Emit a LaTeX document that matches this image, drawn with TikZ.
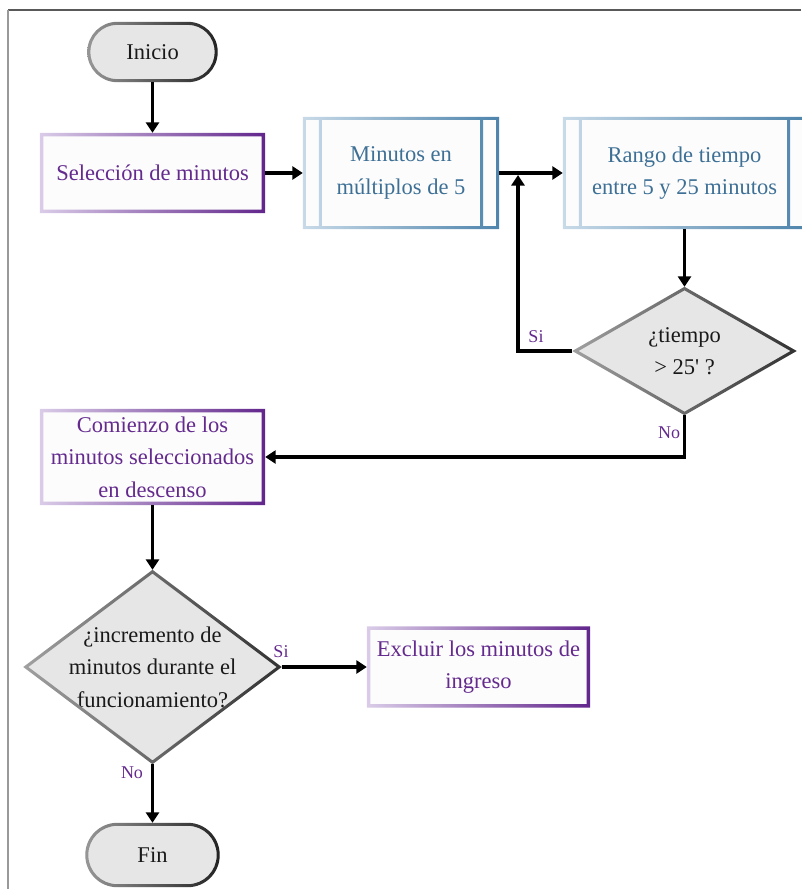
\documentclass[tikz,border=0pt]{standalone}
\usepackage{fontspec}
\setmainfont{Liberation Serif}
\usetikzlibrary{shapes.geometric,arrows.meta,calc}

\definecolor{purptext}{RGB}{100,42,142}
\definecolor{purplight}{RGB}{218,204,232}
\definecolor{purpdark}{RGB}{98,38,140}
\definecolor{bluetext}{RGB}{62,112,150}
\definecolor{bluelight}{RGB}{200,218,232}
\definecolor{bluedark}{RGB}{78,132,172}
\definecolor{boxfill}{RGB}{252,252,252}
\definecolor{greyfill}{RGB}{230,230,230}
\definecolor{termlight}{RGB}{150,150,150}
\definecolor{termdark}{RGB}{35,35,35}
\definecolor{dialight}{RGB}{160,160,160}
\definecolor{diadark}{RGB}{50,50,50}

% gradient ring around a rectangular node
\newcommand\rectring[3]{%
  \shade[left color=#2, right color=#3, even odd rule]
    (#1.south west) rectangle (#1.north east)
    ([shift={(3.5,3.5)}]#1.south west) rectangle ([shift={(-3.5,-3.5)}]#1.north east);}
% predefined-process frame with its two inner bars
\newcommand\procring[1]{%
  \shade[left color=bluelight, right color=bluedark, even odd rule]
    (#1.south west) rectangle (#1.north east)
    ([shift={(3,3)}]#1.south west) rectangle ([shift={(-3,-3)}]#1.north east)
    ([shift={(16,3)}]#1.south west) rectangle ([shift={(19,-3)}]#1.north west)
    ([shift={(-19,3)}]#1.south east) rectangle ([shift={(-16,-3)}]#1.north east);}
% rounded terminal frame
\newcommand\termring[3]{%
  \shade[left color=termlight, right color=termdark, even odd rule]
    [rounded corners=#2] (#1.south west) rectangle (#1.north east)
    [rounded corners=#3] ([shift={(3,3)}]#1.south west) rectangle ([shift={(-3,-3)}]#1.north east);}
% decision frame
\newcommand\diaring[2]{%
  \shade[left color=dialight, right color=diadark, even odd rule]
    (#1.north) -- (#1.east) -- (#1.south) -- (#1.west) -- cycle
    ($(#1.center)!#2!(#1.north)$) -- ($(#1.center)!#2!(#1.east)$) --
    ($(#1.center)!#2!(#1.south)$) -- ($(#1.center)!#2!(#1.west)$) -- cycle;}

\begin{document}
\begin{tikzpicture}[x=1pt, y=1pt,
  font=\fontsize{22.5}{32.5}\selectfont,
  pbox/.style={rectangle, fill=boxfill, inner sep=0, align=center, text=purptext},
  bbox/.style={rectangle, fill=boxfill, inner sep=0, align=center, text=bluetext},
  term/.style={rectangle, rounded corners=#1, fill=greyfill, inner sep=0, text=black!90},
  decision/.style={diamond, fill=greyfill, inner sep=0, aspect=1},
  qtext/.style={align=center, text=black!90},
  lab/.style={font=\fontsize{18}{20}\selectfont, text=purptext, inner sep=0},
  conn/.style={line width=3.2pt, black, -{Triangle[width=13pt,length=10.5pt]}}
]
\useasboundingbox (0,0) rectangle (801,-889);

% outer frame
\draw[line width=1.5pt, black!65] (8,-10) -- (801,-10);
\draw[line width=2pt, black!40] (8,-10) -- (8,-889);

% nodes
\node[term=30, minimum width=130, minimum height=60] (ini) at (152.5,-52) {Inicio};
\node[pbox, minimum width=225, minimum height=80] (sel) at (152.5,-173) {Selección de minutos};
\node[bbox, minimum width=196, minimum height=112] (mul) at (401,-173) {Minutos en\\múltiplos de 5};
\node[bbox, minimum width=243, minimum height=112] (ran) at (684.5,-173) {Rango de tiempo\\entre 5 y 25 minutos};
\node[decision, minimum width=224, minimum height=128,
      label={[qtext]center:¿tiempo\\> 25\textquotesingle\ ?}] (d1) at (684.5,-351) {};
\node[pbox, minimum width=225, minimum height=96] (com) at (152.5,-457)
  {Comienzo de los\\minutos seleccionados\\en descenso};
\node[decision, minimum width=258, minimum height=194,
      label={[qtext]center:¿incremento de\\minutos durante el\\funcionamiento?}] (d2) at (152.5,-667) {};
\node[pbox, minimum width=223, minimum height=81] (exc) at (478.5,-667)
  {Excluir los minutos de\\ingreso};
\node[term=32, minimum width=134, minimum height=64] (fin) at (152.5,-855) {Fin};

% frames
\termring{ini}{30}{27}
\termring{fin}{32}{29}
\rectring{sel}{purplight}{purpdark}
\rectring{com}{purplight}{purpdark}
\rectring{exc}{purplight}{purpdark}
\procring{mul}
\procring{ran}
\diaring{d1}{0.945}
\diaring{d2}{0.961}

% connectors
\coordinate (jn) at (518,-175);
\draw[conn] (ini) -- (sel);
\draw[conn] (sel) -- (mul);
\draw[conn] (mul) -- (ran);
\draw[conn] (ran) -- (d1);
\draw[conn] (d1.west) -| (jn);
\draw[conn] (d1.south) |- (com.east);
\draw[conn] (com) -- (d2);
\draw[conn] (d2.east) -- (exc.west);
\draw[conn] (d2) -- (fin);

% branch labels
\node[lab] (si1) at (536,-337) {Si};
\node[lab] (no1) at (669,-433) {No};
\node[lab] (si2) at (281,-652) {Si};
\node[lab] (no2) at (132,-773) {No};
\end{tikzpicture}
\end{document}
